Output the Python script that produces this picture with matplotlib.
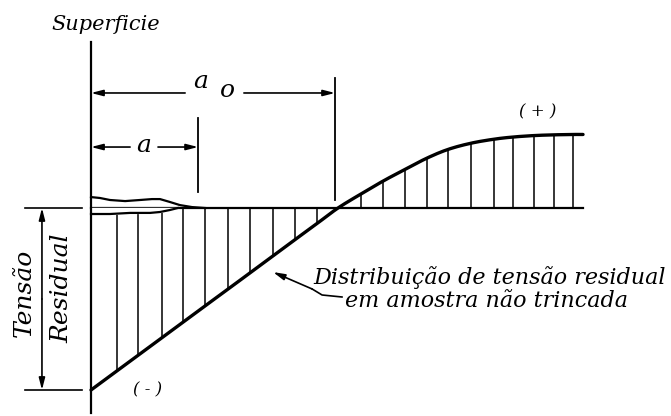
import matplotlib
matplotlib.use("Agg")
import matplotlib.pyplot as plt
import numpy as np

# Profundidade a partir da superficie (a_o ~ 1) e tensao residual normalizada
depth_comp = [0.0, 0.104, 0.189, 0.285, 0.369, 0.458, 0.550, 0.639, 0.731, 0.819, 0.908, 0.992]
stress_comp = [-1.0, -0.895, -0.809, -0.713, -0.628, -0.538, -0.446, -0.356, -0.263, -0.174, -0.085, 0.0]
depth_trac = [0.992, 1.084, 1.173, 1.261, 1.349, 1.434, 1.526, 1.618, 1.695, 1.779, 1.859, 1.936, 1.976]
stress_trac = [0.0, 0.077, 0.148, 0.212, 0.274, 0.322, 0.356, 0.378, 0.390, 0.398, 0.402, 0.404, 0.404]

# Contorno da trinca junto a superficie
crack_top_x = [0.0, 0.036, 0.076, 0.137, 0.197, 0.245, 0.277, 0.317, 0.357, 0.406, 0.458]
crack_top_s = [0.060, 0.055, 0.044, 0.038, 0.044, 0.049, 0.049, 0.033, 0.016, 0.005, 0.0]
crack_bot_x = [0.0, 0.076, 0.157, 0.237, 0.277, 0.317, 0.349]
crack_bot_s = [-0.033, -0.033, -0.027, -0.027, -0.022, -0.011, 0.0]

A_CRACK = 0.430
A_ZERO = 0.980

LBL_FONT = dict(family="DejaVu Serif", style="italic", color="black")


def smooth(xs, ys, steps=10):
    """Catmull-Rom pelos pontos, so para o traco ficar liso."""
    p = np.column_stack([xs, ys])
    p = np.vstack([p[0], p, p[-1]])
    out = []
    for i in range(1, len(p) - 2):
        p0, p1, p2, p3 = p[i - 1], p[i], p[i + 1], p[i + 2]
        for t in np.linspace(0, 1, steps, endpoint=False):
            out.append(0.5 * (2 * p1 + (-p0 + p2) * t
                              + (2 * p0 - 5 * p1 + 4 * p2 - p3) * t ** 2
                              + (-p0 + 3 * p1 - 3 * p2 + p3) * t ** 3))
    out.append(p[-2])
    out = np.array(out)
    return out[:, 0], out[:, 1]


fig = plt.figure(figsize=(6.71, 4.16), dpi=100)
ax = fig.add_axes([0, 0, 1, 1])
ax.set_xlim(-0.3655, 2.3293)
ax.set_ylim(-1.1429, 1.1429)
ax.axis("off")

# curva de tensao residual e hachura vertical
depth = depth_comp + depth_trac[1:]
stress = stress_comp + stress_trac[1:]
cx, cy = smooth(depth, stress)
ax.plot(cx, cy, color="black", lw=2.4, solid_capstyle="round", zorder=4)
ax.plot([0, depth[-1]], [0, 0], color="black", lw=1.6, zorder=3)
hatch = [(d, s) for d, s in zip(depth, stress) if 0 < d < depth[-1] and s != 0]
ax.vlines([h[0] for h in hatch], 0, [h[1] for h in hatch], color="black", lw=1.1, zorder=2)

# trinca
ax.plot(crack_top_x, crack_top_s, color="black", lw=1.6, zorder=4)
ax.plot(crack_bot_x, crack_bot_s, color="black", lw=1.6, zorder=4)
ax.fill_between(crack_bot_x, crack_bot_s, 0, color="white", zorder=3)

# superficie
ax.plot([0, 0], [0.912, -1.126], color="black", lw=1.6, zorder=5)
ax.text(0.06, 0.978, "Superficie", ha="center", va="baseline", fontsize=15, **LBL_FONT)

# cotas a e a_o
arrow = dict(arrowstyle="-|>,head_length=0.7,head_width=0.18", color="black", lw=1.2,
             shrinkA=0, shrinkB=0)
ax.plot([A_ZERO, A_ZERO], [0.714, 0.044], color="black", lw=1.3)
ax.plot([A_CRACK, A_CRACK], [0.495, 0.088], color="black", lw=1.3)
ax.annotate("", xy=(0.0, 0.632), xytext=(0.378, 0.632), arrowprops=arrow)
ax.annotate("", xy=(A_ZERO, 0.632), xytext=(0.614, 0.632), arrowprops=arrow)
ax.annotate("", xy=(0.0, 0.335), xytext=(0.157, 0.335), arrowprops=arrow)
ax.annotate("", xy=(A_CRACK, 0.335), xytext=(0.269, 0.335), arrowprops=arrow)
ax.text(0.442, 0.659, "a", ha="center", va="baseline", fontsize=18, **LBL_FONT)
ax.text(0.546, 0.610, "o", ha="center", va="baseline", fontsize=18, **LBL_FONT)
ax.text(0.213, 0.308, "a", ha="center", va="baseline", fontsize=18, **LBL_FONT)

# cota vertical da tensao residual
ax.plot([-0.265, -0.036], [0, 0], color="black", lw=1.2)
ax.plot([-0.265, -0.036], [-1, -1], color="black", lw=1.2)
ax.annotate("", xy=(-0.197, 0), xytext=(-0.197, -0.5), arrowprops=arrow)
ax.annotate("", xy=(-0.197, -1), xytext=(-0.197, -0.5), arrowprops=arrow)
ax.text(-0.268, -0.467, "Tensão", rotation=90, ha="center", va="center", fontsize=18, **LBL_FONT)
ax.text(-0.118, -0.440, "Residual", rotation=90, ha="center", va="center", fontsize=18, **LBL_FONT)

# sinais
ax.text(1.795, 0.527, "( + )", ha="center", va="center", fontsize=12, **LBL_FONT)
ax.text(0.229, -1.0, "( - )", ha="center", va="center", fontsize=12, **LBL_FONT)

# indicador da curva
ax.plot([0.888, 0.928, 1.008], [-0.445, -0.478, -0.489], color="black", lw=1.2)
ax.annotate("", xy=(0.731, -0.352), xytext=(0.888, -0.445), arrowprops=arrow)
ax.text(0.892, -0.418, "Distribuição de tensão residual", ha="left", va="baseline",
        fontsize=16, **LBL_FONT)
ax.text(1.02, -0.544, "em amostra não trincada", ha="left", va="baseline",
        fontsize=16, **LBL_FONT)

fig.savefig("out.png", dpi=100)
